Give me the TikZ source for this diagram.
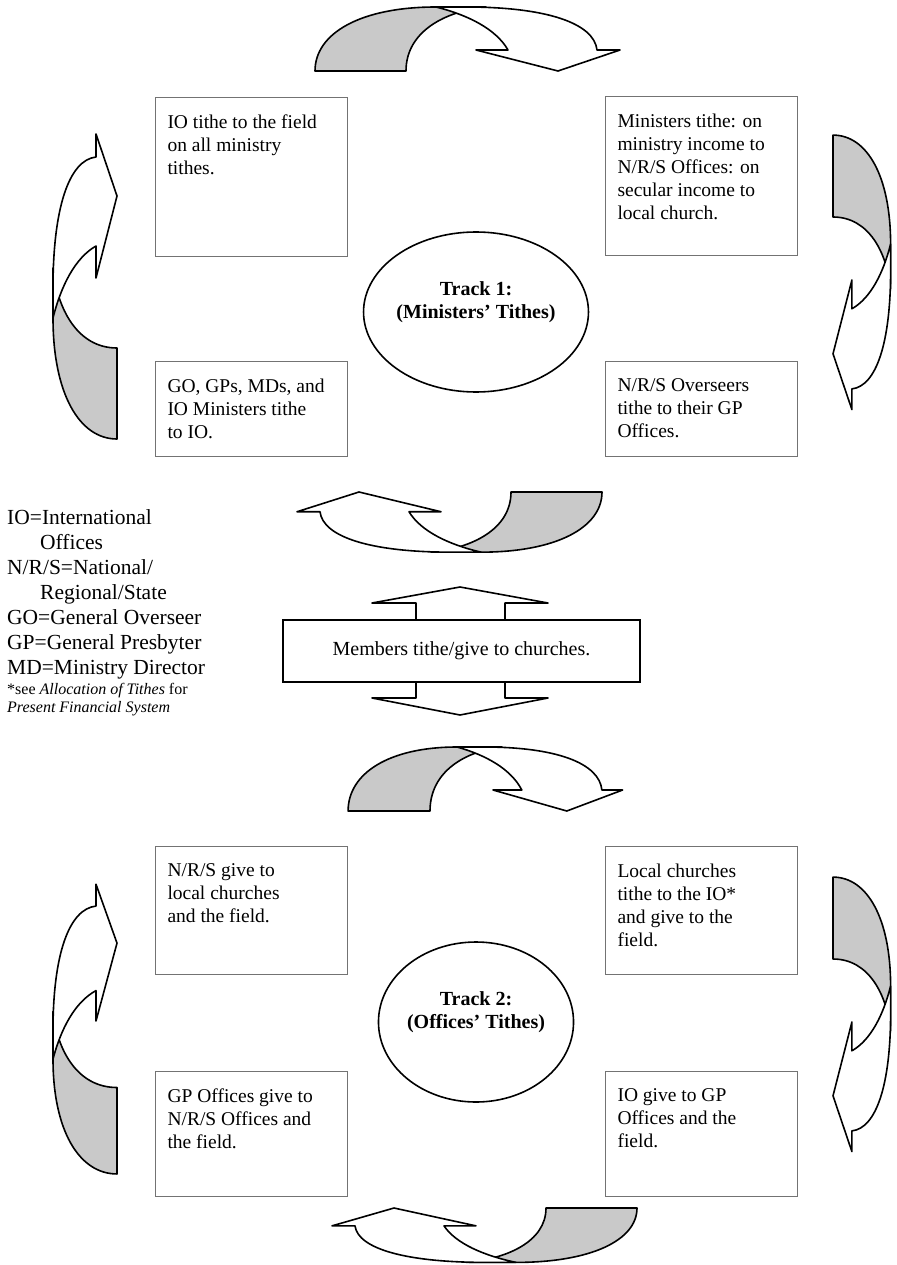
\documentclass[tikz,border=0pt]{standalone}
\usepackage{fontspec}
\setmainfont{Liberation Serif}
\usetikzlibrary{positioning}
\usetikzlibrary{shapes.geometric}
\tikzset{info node/.style={rectangle,draw=black!55,line width=1pt,inner xsep=12pt,inner ysep=17pt,anchor=north west,font=\fontsize{19.5}{23.2}\selectfont},
  track node/.style={ellipse,draw,line width=1.6pt,fill=white,minimum width=193pt,minimum height=160pt,inner sep=0pt,align=center,font=\bfseries\fontsize{20}{23.2}\selectfont},
  key node/.style={anchor=north west,inner sep=0pt,align=left,font=\fontsize{21.5}{25}\selectfont},
  note node/.style={inner sep=0pt,align=left,font=\fontsize{16}{18}\selectfont},
  member node/.style={rectangle,draw,line width=1.5pt,fill=white,minimum width=357pt,minimum height=62pt,font=\fontsize{20}{23.2}\selectfont},
  back part/.style={draw,line width=1.6pt,line join=round,fill=black!21},
  front part/.style={draw,line width=1.6pt,line join=round,fill=white},
  turn arrow/.pic={
    \path[back part] (-141,0) .. controls (-141,-38) and (-95,-64) .. (-20,-64)
      -- (30,-64) .. controls (-10,-60) and (-50,-40) .. (-50,0) -- cycle;
    \path[front part] (-20,-64) -- (10,-64) .. controls (90,-64) and (138,-48) .. (141,-21)
      -- (164,-21) -- (102,0) -- (20,-21) -- (52,-21)
      .. controls (40,-42) and (12,-56) .. (-20,-64) -- cycle;
  }}
\newcommand{\boxlines}[2]{\begin{minipage}[t][#1pt][t]{168pt}\raggedright #2\end{minipage}}

\begin{document}
\begin{tikzpicture}[x=1pt,y=-1pt]
\useasboundingbox (0,0) rectangle (896,1265);

% track 1
\pic at (456,71) {turn arrow};
\pic[rotate=-90,scale=.9] at (833,262) {turn arrow};
\pic[rotate=180,yscale=.94] at (461,492) {turn arrow};
\pic[rotate=90] at (117,298) {turn arrow};

\node[track node] (track1) at (476,312) {Track 1:\\(Ministers’ Tithes)\\\mbox{}};
\node[info node] (fieldtithe) at (155,97) {\boxlines{125}{IO tithe to the field\\on all ministry\\tithes.}};
\node[info node] (ministers) at (605,96) {\boxlines{125}{Ministers tithe: on\\ministry income to\\N/R/S Offices: on\\secular income to\\local church.}};
\node[info node] (iotithe) at (155,361) {\boxlines{61}{GO, GPs, MDs, and\\IO Ministers tithe\\to IO.}};
\node[info node] (overseers) at (605,361) {\boxlines{61}{N/R/S Overseers\\tithe to their GP\\Offices.}};

% members
\draw[front part] (460,587) -- (548,603) -- (505,603) -- (505,698) -- (548,698) -- (460,715)
  -- (372,698) -- (416,698) -- (416,603) -- (372,603) -- cycle;
\node[member node] (members) at (461.5,651) {Members tithe/give to churches.};

\node[key node] (key) at (7,509) {IO=International\\\hspace*{33pt}Offices\\N/R/S=National/\\\hspace*{33pt}Regional/State\\GO=General Overseer\\GP=General Presbyter\\MD=Ministry Director};
\node[note node,below=4pt of key.south west,anchor=north west] (keynote) {*see \textit{Allocation of Tithes} for\\\textit{Present Financial System}};

% track 2
\pic[xscale=.9] at (475,811) {turn arrow};
\pic[rotate=-90,scale=.9] at (833,1004) {turn arrow};
\pic[rotate=180,yscale=.85] at (496,1208) {turn arrow};
\pic[rotate=90,xscale=.95] at (117,1040) {turn arrow};

\node[track node] (track2) at (476,1022) {Track 2:\\(Offices’ Tithes)\\\mbox{}};
\node[info node] (nrsgive) at (155,846) {\boxlines{94}{N/R/S give to\\local churches\\and the field.}};
\node[info node] (localchurch) at (605,846) {\boxlines{94}{Local churches\\tithe to the IO*\\and give to the\\field.}};
\node[info node] (gpgive) at (155,1071) {\boxlines{91}{GP Offices give to\\N/R/S Offices and\\the field.}};
\node[info node] (iogive) at (605,1071) {\boxlines{91}{IO give to GP\\Offices and the\\field.}};
\end{tikzpicture}
\end{document}
